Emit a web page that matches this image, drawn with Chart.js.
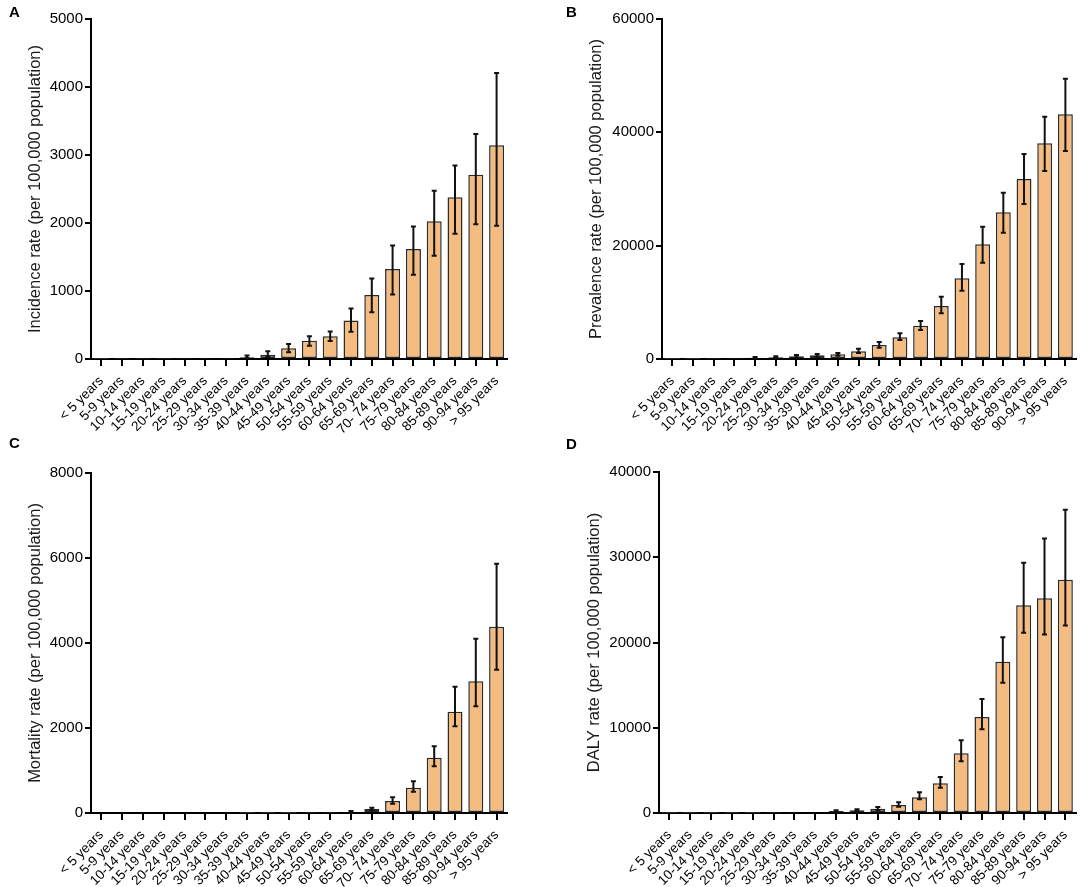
<!DOCTYPE html>
<html>
<head>
<meta charset="utf-8">
<script src="https://cdn.jsdelivr.net/npm/chart.js@4.4.1/dist/chart.umd.min.js"></script>
<style>
  body { margin:0; background:#fff; width:1084px; height:887px; position:relative; overflow:hidden; }
  .box { position:absolute; }
  .letter { position:absolute; font:bold 15px "Liberation Sans", Arial, sans-serif; color:#000; line-height:16px; }
</style>
</head>
<body>
<div class="box" style="left:0;top:0;width:540px;height:445px"><canvas id="chartA"></canvas></div>
<div class="box" style="left:540px;top:0;width:544px;height:445px"><canvas id="chartB"></canvas></div>
<div class="box" style="left:0;top:445px;width:540px;height:442px"><canvas id="chartC"></canvas></div>
<div class="box" style="left:540px;top:445px;width:544px;height:442px"><canvas id="chartD"></canvas></div>
<div class="letter" style="left:9px;top:4px">A</div>
<div class="letter" style="left:566px;top:4px">B</div>
<div class="letter" style="left:9px;top:435px">C</div>
<div class="letter" style="left:566px;top:436px">D</div>
<script>
var ageGroups = ["< 5 years", "5-9 years", "10-14 years", "15-19 years", "20-24 years",
  "25-29 years", "30-34 years", "35-39 years", "40-44 years", "45-49 years",
  "50-54 years", "55-59 years", "60-64 years", "65-69 years", "70- 74 years",
  "75-79 years", "80-84 years", "85-89 years", "90-94 years", "> 95 years"];

// A - incidence
var incidence   = [1, 2, 3, 4, 6, 7, 9, 25, 64, 157, 269, 333, 568, 940, 1322, 1616, 2027, 2380, 2708, 3144];
var incidenceLo = [0, 0, 1, 2, 3, 4, 5, 12, 29, 98, 196, 264, 402, 686, 950, 1239, 1518, 1841, 1983, 1959];
var incidenceHi = [3, 4, 6, 8, 12, 14, 18, 50, 113, 220, 333, 406, 744, 1185, 1670, 1949, 2473, 2845, 3310, 4207];

// B - prevalence
var prevalence   = [5, 10, 40, 80, 230, 300, 470, 650, 823, 1353, 2470, 3824, 5882, 9353, 14235, 20235, 25882, 31765, 38060, 43176];
var prevalenceLo = [2, 5, 20, 40, 120, 150, 250, 410, 588, 1059, 2000, 3353, 5118, 8059, 12059, 17000, 22294, 27353, 33176, 36700];
var prevalenceHi = [10, 20, 80, 150, 350, 500, 700, 880, 1059, 1823, 3000, 4529, 6706, 11000, 16765, 23353, 29353, 36176, 42765, 49470];

// C - mortality
var mortality   = [0, 0, 0, 0, 0, 0, 0, 1, 1, 2, 3, 6, 25, 94, 282, 596, 1302, 2384, 3098, 4384];
var mortalityLo = [0, 0, 0, 0, 0, 0, 0, 0, 0, 1, 2, 3, 12, 63, 220, 502, 1098, 2039, 2510, 3373];
var mortalityHi = [0, 0, 0, 0, 0, 0, 0, 1, 2, 4, 6, 12, 45, 125, 369, 745, 1569, 2973, 4102, 5867];

// D - DALY
var daly   = [8, 6, 8, 10, 14, 20, 60, 100, 235, 313, 509, 940, 1840, 3483, 7006, 11272, 17730, 24384, 25205, 27358];
var dalyLo = [4, 3, 4, 6, 8, 12, 35, 60, 150, 200, 352, 744, 1605, 2975, 6067, 9824, 15264, 21135, 20939, 21996];
var dalyHi = [12, 9, 12, 15, 20, 30, 90, 140, 330, 430, 705, 1252, 2427, 4227, 8532, 13386, 20626, 29354, 32211, 35577];

var FONT = "'Liberation Sans', Arial, sans-serif";

var errorBars = {
  id: 'errorBars',
  afterDatasetsDraw: function(chart, args, opts) {
    var ctx = chart.ctx;
    var y = chart.scales.y;
    var meta = chart.getDatasetMeta(0);
    ctx.save();
    ctx.strokeStyle = '#111';
    ctx.lineWidth = 2;
    meta.data.forEach(function(bar, i) {
      var top = y.getPixelForValue(opts.hi[i]);
      var bot = y.getPixelForValue(opts.lo[i]);
      if (bot - top < 1) return;
      ctx.beginPath();
      ctx.moveTo(bar.x, top); ctx.lineTo(bar.x, bot);
      ctx.moveTo(bar.x - 2.5, top); ctx.lineTo(bar.x + 2.5, top);
      ctx.moveTo(bar.x - 2.5, bot); ctx.lineTo(bar.x + 2.5, bot);
      ctx.stroke();
    });
    ctx.restore();
  }
};

function makeChart(id, values, lo, hi, title, max, step, pad, yWidth, xHeight) {
  var ctx = document.getElementById(id).getContext('2d');
  return new Chart(ctx, {
    type: 'bar',
    data: {
      labels: ageGroups,
      datasets: [{
        data: values,
        backgroundColor: '#F4BC80',
        borderColor: '#2a2a2a',
        borderWidth: 1.5,
        borderSkipped: false,
        categoryPercentage: 1,
        barPercentage: 0.72
      }]
    },
    options: {
      responsive: true,
      maintainAspectRatio: false,
      animation: false,
      layout: { padding: pad },
      plugins: {
        legend: { display: false },
        tooltip: { enabled: false },
        errorBars: { lo: lo, hi: hi }
      },
      scales: {
        x: {
          offset: true,
          afterFit: function(s) { s.height = xHeight; },
          grid: { display: true, drawOnChartArea: false, drawTicks: true, offset: false,
                  color: '#000', lineWidth: 2, tickLength: 7, tickColor: '#000', tickWidth: 2 },
          border: { color: '#000', width: 2 },
          ticks: { autoSkip: false, minRotation: 45, maxRotation: 45, color: '#000', padding: 7,
                   font: { family: FONT, size: 13.5 } }
        },
        y: {
          min: 0, max: max,
          afterFit: function(s) { s.width = yWidth; },
          grid: { display: true, drawOnChartArea: false, color: '#000', lineWidth: 2, tickLength: 6 },
          border: { color: '#000', width: 2 },
          ticks: { stepSize: step, color: '#000', padding: 2, font: { family: FONT, size: 15 },
                   callback: function(v) { return String(v); } },
          title: { display: true, text: title, color: '#1a1a1a', padding: { top: 4, bottom: 0 },
                   font: { family: FONT, size: 16.5 } }
        }
      }
    },
    plugins: [errorBars]
  });
}

makeChart('chartA', incidence, incidenceLo, incidenceHi, 'Incidence rate (per 100,000 population)',
  5000, 1000, { left: 22, top: 19, right: 33, bottom: 0 }, 69, 86);
makeChart('chartB', prevalence, prevalenceLo, prevalenceHi, 'Prevalence rate (per 100,000 population)',
  60000, 20000, { left: 43, top: 19, right: 6, bottom: 0 }, 79, 86);
makeChart('chartC', mortality, mortalityLo, mortalityHi, 'Mortality rate (per 100,000 population)',
  8000, 2000, { left: 22, top: 28, right: 33, bottom: 0 }, 69, 74);
makeChart('chartD', daly, dalyLo, dalyHi, 'DALY rate (per 100,000 population)',
  40000, 10000, { left: 41, top: 27, right: 8, bottom: 0 }, 78, 74);
</script>
</body>
</html>
